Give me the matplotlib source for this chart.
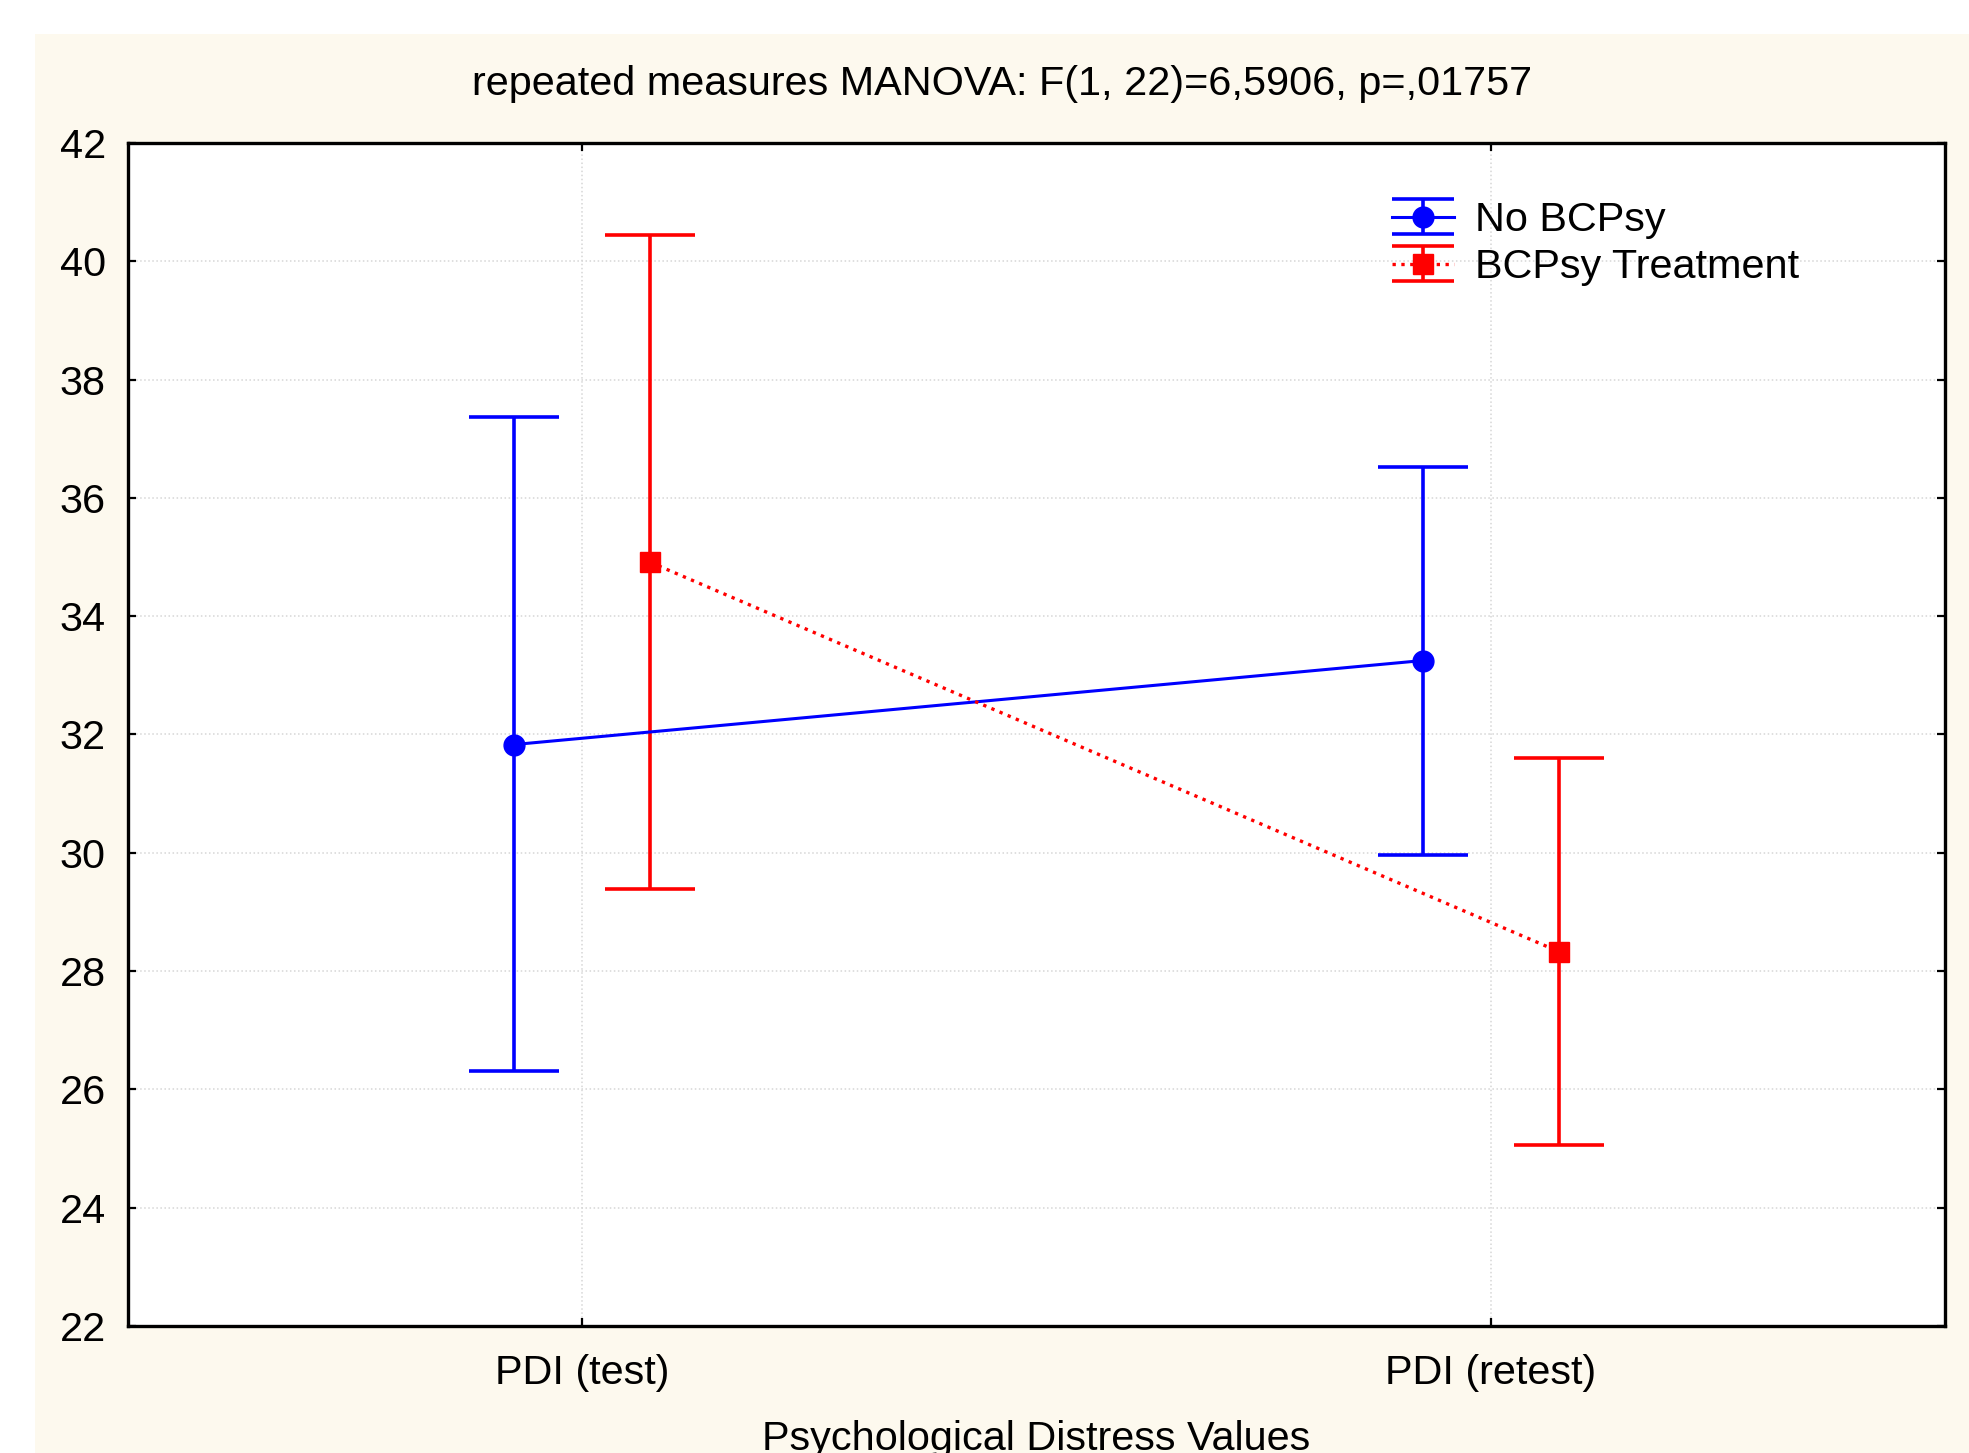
import matplotlib
matplotlib.use("Agg")
import matplotlib.pyplot as plt
from matplotlib.patches import Rectangle
from matplotlib.legend_handler import HandlerErrorbar
from matplotlib.lines import Line2D

plt.rcParams["font.family"] = ["Liberation Sans", "DejaVu Sans"]

# data
conditions = ["PDI (test)", "PDI (retest)"]
groups = ["No BCPsy", "BCPsy Treatment"]
means = {
    "No BCPsy": [31.83, 33.25],
    "BCPsy Treatment": [34.91, 28.33],
}
upper = {
    "No BCPsy": [37.37, 36.52],
    "BCPsy Treatment": [40.45, 31.60],
}
lower = {
    "No BCPsy": [26.31, 29.96],
    "BCPsy Treatment": [29.39, 25.06],
}
colors = {"No BCPsy": "#0000ff", "BCPsy Treatment": "#ff0000"}
markers = {"No BCPsy": "o", "BCPsy Treatment": "s"}
linestyles = {"No BCPsy": "-", "BCPsy Treatment": ":"}
offsets = {"No BCPsy": -0.075, "BCPsy Treatment": 0.075}
title = "repeated measures MANOVA: F(1, 22)=6,5906, p=,01757"
xlabel = "Psychological Distress Values"
FS = 29.8


class CapHandler(HandlerErrorbar):
    # keep legend caps as wide as the handle
    def create_artists(self, legend, orig_handle, xdescent, ydescent,
                       width, height, fontsize, trans):
        artists = super().create_artists(legend, orig_handle, xdescent, ydescent,
                                         width, height, fontsize, trans)
        for a in artists:
            if isinstance(a, Line2D) and a.get_marker() == "_":
                a.set_markersize(width)
        return artists


fig = plt.figure(figsize=(19.69, 14.53), dpi=100)
fig.patches.append(Rectangle((35 / 1969, 0), 1 - 35 / 1969, 1 - 34 / 1453,
                             transform=fig.transFigure, facecolor="#fdf9ee",
                             edgecolor="none", zorder=-10))

ax = fig.add_axes([0.0650, 0.0874, 0.9228, 0.8142])
ax.set_facecolor("white")

handles = []
for g in groups:
    xs = [i + offsets[g] for i in range(len(conditions))]
    ys = means[g]
    yerr = [[m - lo for m, lo in zip(ys, lower[g])],
            [hi - m for m, hi in zip(ys, upper[g])]]
    h = ax.errorbar(xs, ys, yerr=yerr, color=colors[g], marker=markers[g],
                    markersize=15, linestyle=linestyles[g], linewidth=2.2,
                    elinewidth=2.6, capsize=32.5, capthick=2.6, label=g,
                    zorder=3)
    h[0].set_linewidth(2.2 if g == "No BCPsy" else 2.4)
    handles.append(h)

ax.set_xlim(-0.5, 1.5)
ax.set_ylim(22, 42)
ax.set_yticks(range(22, 43, 2))
ax.set_xticks(range(len(conditions)))
ax.set_xticklabels(conditions)
ax.tick_params(axis="both", direction="in", length=6, width=1.6,
               top=True, right=True, labelsize=FS)
ax.tick_params(axis="x", pad=20)
ax.tick_params(axis="y", pad=16)
ax.grid(True, linestyle=":", color="#d6d6d6", linewidth=1.1)
ax.set_axisbelow(True)
for s in ax.spines.values():
    s.set_linewidth(2.4)
    s.set_color("black")

leg = ax.legend(handles, groups, loc="upper left",
                bbox_to_anchor=(1392 / 1969, 1 - 201 / 1453),
                bbox_transform=fig.transFigure, frameon=False, fontsize=FS,
                handlelength=1.5, handletextpad=0.5, labelspacing=0.22,
                borderpad=0, borderaxespad=0,
                handler_map={type(handles[0]): CapHandler(xerr_size=0.5, yerr_size=0.43)})

fig.text(1002 / 1969, 1 - 84 / 1453, title, ha="center", va="center", fontsize=FS)
fig.text(1036 / 1969, 1 - 1450 / 1453, xlabel, ha="center", va="baseline", fontsize=FS)

fig.savefig("out.png", dpi=100, facecolor="white")
